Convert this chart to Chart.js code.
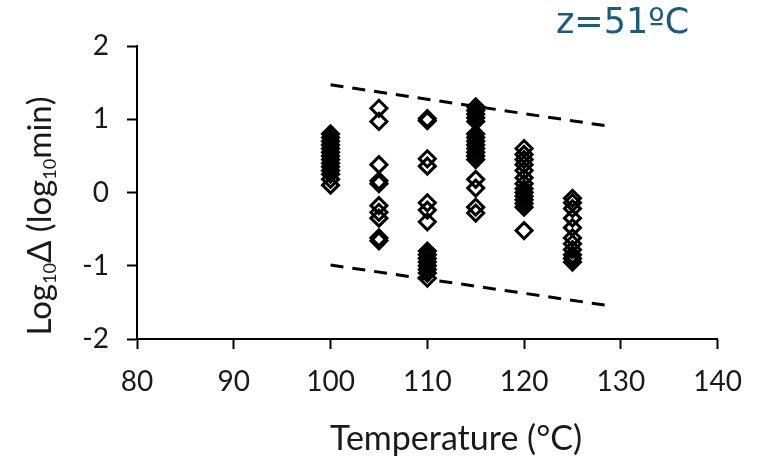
<!DOCTYPE html>
<html>
<head>
<meta charset="utf-8">
<script src="https://cdn.jsdelivr.net/npm/chart.js@4/dist/chart.umd.min.js"></script>
<style>
  html, body { margin: 0; padding: 0; background: #ffffff; }
  #wrap { position: relative; width: 758px; height: 464px; overflow: hidden; }
  #c { position: absolute; left: 0; top: 0; }
  #zlabel { position: absolute; left: 556px; top: 1px; font-family: "DejaVu Sans", sans-serif; font-size: 35px; color: #1b5b7c; white-space: nowrap; }
  .atitle { position: absolute; font-family: Lato, "Open Sans", sans-serif; color: #1a1a1a; text-align: center; white-space: nowrap; }
  .atitle sub { font-size: 55%; vertical-align: -0.25em; }
  #xtitle { left: 256px; top: 416px; width: 400px; height: 42px; line-height: 42px; font-size: 34px; }
  #ytitle { left: -122px; top: 195px; width: 320px; height: 42px; line-height: 42px; font-size: 33px; transform: rotate(-90deg); }
</style>
</head>
<body>
<div id="wrap">
  <canvas id="c" width="758" height="464"></canvas>
  <div id="zlabel">z=51ºC</div>
  <div id="xtitle" class="atitle">Temperature (°C)</div>
  <div id="ytitle" class="atitle">Log<sub>10</sub>Δ (log<sub>10</sub>min)</div>
</div>
<script>
// Temperatures (°C) at which log10 D values were measured
const temps = [100, 105, 110, 115, 120, 125];

// log10 D (log10 min) values per temperature
const logD100 = [0.80, 0.75, 0.70, 0.65, 0.60, 0.55, 0.50, 0.45, 0.40, 0.35, 0.30, 0.25, 0.18, 0.10];
const logD105 = [1.15, 0.97, 0.38, 0.16, 0.12, -0.18, -0.27, -0.35, -0.62, -0.66];
const logD110 = [1.01, 0.98, 0.46, 0.36, -0.14, -0.24, -0.40, -0.80, -0.85, -0.90, -0.95, -1.00, -1.05, -1.10, -1.17];
const logD115 = [1.17, 1.12, 1.07, 1.02, 0.97, 0.80, 0.75, 0.70, 0.65, 0.60, 0.55, 0.50, 0.45, 0.18, 0.06, -0.20, -0.28];
const logD120 = [0.60, 0.52, 0.45, 0.38, 0.30, 0.20, 0.12, 0.05, 0.00, -0.05, -0.10, -0.15, -0.20, -0.52];
const logD125 = [-0.08, -0.14, -0.22, -0.35, -0.48, -0.62, -0.70, -0.78, -0.85, -0.90, -0.95];

// Dashed bounding lines
const boundX = [100, 128.5];
const upperBoundY = [1.47, 0.91];
const lowerBoundY = [-0.99, -1.54];

// Axis ticks
const xTicks = [80, 90, 100, 110, 120, 130, 140];
const yTicks = [-2, -1, 0, 1, 2];

const allSeries = [logD100, logD105, logD110, logD115, logD120, logD125];
const scatterPts = [];
temps.forEach((t, i) => allSeries[i].forEach(v => scatterPts.push({x: t, y: v})));

const lineData = ys => boundX.map((x, i) => ({x: x, y: ys[i]}));

const tickFont = {family: "Lato, 'Open Sans', sans-serif", size: 28};

new Chart(document.getElementById('c'), {
  type: 'scatter',
  data: {
    datasets: [
      {
        data: scatterPts,
        pointStyle: 'rectRot',
        pointRadius: 8,
        pointHoverRadius: 8,
        borderColor: '#000000',
        backgroundColor: 'rgba(0,0,0,0)',
        pointBorderWidth: 3,
        showLine: false
      },
      {
        type: 'line',
        data: lineData(upperBoundY),
        borderColor: '#000000',
        borderWidth: 3,
        borderDash: [13, 9],
        pointRadius: 0,
        fill: false
      },
      {
        type: 'line',
        data: lineData(lowerBoundY),
        borderColor: '#000000',
        borderWidth: 3,
        borderDash: [13, 9],
        pointRadius: 0,
        fill: false
      }
    ]
  },
  options: {
    responsive: false,
    animation: false,
    devicePixelRatio: 1,
    layout: { padding: { top: 46, right: 36, left: 0, bottom: 0 } },
    plugins: { legend: { display: false }, tooltip: { enabled: false } },
    scales: {
      x: {
        type: 'linear',
        min: 80, max: 140,
        afterBuildTicks: s => { s.ticks = xTicks.map(v => ({value: v})); },
        afterFit: s => { s.height = 125; },
        border: { display: true, color: '#000000', width: 2 },
        grid: { drawOnChartArea: false, drawTicks: true, tickLength: 10, tickColor: '#000000', tickWidth: 2 },
        ticks: { color: '#1a1a1a', font: tickFont, padding: 16, maxRotation: 0 },
        title: { display: false }
      },
      y: {
        type: 'linear',
        min: -2, max: 2,
        afterBuildTicks: s => { s.ticks = yTicks.map(v => ({value: v})); },
        afterFit: s => { s.width = 137; },
        border: { display: true, color: '#000000', width: 2 },
        grid: { drawOnChartArea: false, drawTicks: true, tickLength: 10, tickColor: '#000000', tickWidth: 2 },
        ticks: { color: '#1a1a1a', font: tickFont, padding: 18 },
        title: { display: false }
      }
    }
  }
});
</script>
</body>
</html>
